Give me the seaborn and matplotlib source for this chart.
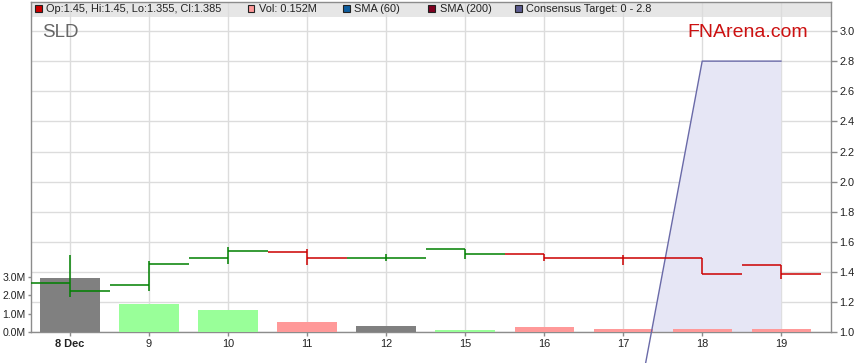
import matplotlib
matplotlib.use("Agg")
import matplotlib.pyplot as plt
import matplotlib.ticker as mticker
from matplotlib.patches import Rectangle
import numpy as np
import pandas as pd
import seaborn as sns

# ---------------- data ----------------
dates = ["8 Dec", "9", "10", "11", "12", "15", "16", "17", "18", "19"]
opens = [1.33, 1.315, 1.49, 1.53, 1.495, 1.55, 1.52, 1.495, 1.49, 1.45]
highs = [1.51, 1.475, 1.565, 1.55, 1.52, 1.55, 1.52, 1.51, 1.49, 1.45]
lows = [1.235, 1.275, 1.455, 1.45, 1.47, 1.485, 1.47, 1.45, 1.39, 1.355]
closes = [1.275, 1.455, 1.54, 1.495, 1.495, 1.52, 1.495, 1.49, 1.39, 1.385]
volume_m = [2.93, 1.53, 1.2, 0.555, 0.34, 0.12, 0.29, 0.18, 0.18, 0.152]
price_dir = ["up", "up", "up", "down", "up", "up", "down", "down", "down", "down"]
vol_dir = ["flat", "up", "up", "down", "flat", "up", "down", "down", "down", "down"]
cons_dates = ["17", "18", "19"]
cons_values = [0.0, 2.8, 2.8]
price_ticks = [1.0, 1.2, 1.4, 1.6, 1.8, 2.0, 2.2, 2.4, 2.6, 2.8, 3.0]
vol_ticks = [0.0, 1.0, 2.0, 3.0]

# ---------------- style ----------------
sns.set_theme(style="white")
plt.rcParams["font.family"] = ["Liberation Sans", "DejaVu Sans"]
FS = 7.9
GRID = "#dcdcdc"
SPINE = "#8c8c8c"
TXT = "#222222"
price_col = {"up": "#008000", "down": "#cc0000"}
vol_col = {"up": "#99ff99", "down": "#ff9999", "flat": "#808080"}

W, H = 859, 363
fig = plt.figure(figsize=(W / 100, H / 100), dpi=100)
fig.patch.set_facecolor("white")

x_left, x_right = 30.5, 831.0
y_top, y_bot = 2.3, 332.3
ax_p = fig.add_axes([x_left / W, 1 - y_bot / H, (x_right - x_left) / W, (y_bot - y_top) / H])

px_per_unit = 150.65
px_per_m = 18.55
p_top = 1.0 + (y_bot - y_top) / px_per_unit
v_top = (y_bot - y_top) / px_per_m

idx = np.arange(len(dates))
xlim = (-0.5, 9.63)

# base axes: band, grid, consensus fill
ax_p.set_xlim(*xlim)
ax_p.set_ylim(1.0, p_top)
ax_p.set_axisbelow(True)
band_frac = (y_bot - 16.5) / (y_bot - y_top)
ax_p.add_patch(Rectangle((0, band_frac), 1, 1 - band_frac, transform=ax_p.transAxes,
                         facecolor="#e6e6e6", edgecolor="none", zorder=0.1))
ax_p.set_yticks(price_ticks)
ax_p.yaxis.set_major_formatter(mticker.FormatStrFormatter("%.1f"))
ax_p.grid(True, color=GRID, linewidth=1.0)
cons_x = [dates.index(d) for d in cons_dates]
ax_p.fill_between(cons_x, cons_values, 0, color="#e6e6f5", linewidth=0, zorder=1)
for s in ax_p.spines.values():
    s.set_color(SPINE)
    s.set_linewidth(1.0)

# volume axes
ax_v = ax_p.twinx()
vdf = pd.DataFrame({"date": dates, "vol": volume_m, "dir": vol_dir})
sns.barplot(data=vdf, x="date", y="vol", hue="date",
            palette=[vol_col[d] for d in vol_dir], width=0.75,
            legend=False, ax=ax_v, saturation=1, linewidth=0, zorder=2)
ax_v.set_ylim(0, v_top)
ax_v.set_yticks(vol_ticks)
ax_v.yaxis.set_major_formatter(mticker.FuncFormatter(lambda v, p: f"{v:.1f}M"))
ax_v.set_ylabel("")
ax_v.set_xlabel("")
for s in ax_v.spines.values():
    s.set_visible(False)

# OHLC + consensus line axes
ax_o = ax_p.twinx()
ax_o.set_ylim(1.0, p_top)
ax_o.set_yticks([])
for s in ax_o.spines.values():
    s.set_visible(False)
sns.lineplot(x=cons_x, y=cons_values, ax=ax_o, color="#6a6aa8", linewidth=1.0,
             clip_on=False, zorder=3, legend=False)
for i in idx:
    c = price_col[price_dir[i]]
    ax_o.vlines(i, lows[i], highs[i], color=c, linewidth=1.1, zorder=4)
    ax_o.hlines(opens[i], i - 0.5, i, color=c, linewidth=1.1, zorder=4)
    ax_o.hlines(closes[i], i, i + 0.5, color=c, linewidth=1.1, zorder=4)
ax_o.set_ylim(1.0, p_top)

# tick placement (after twins, which reset sides)
ax_p.yaxis.tick_right()
ax_p.tick_params(axis="y", which="major", direction="out", length=4, width=1, color=SPINE,
                 labelsize=FS, labelcolor=TXT, pad=2, right=True, left=False,
                 labelright=True, labelleft=False)
ax_v.yaxis.tick_left()
ax_v.yaxis.set_label_position("left")
ax_v.tick_params(axis="y", direction="out", length=2.5, width=1, color=SPINE,
                 labelsize=7.6, labelcolor=TXT, pad=0.8, left=True, right=False,
                 labelleft=True, labelright=False)

ax_p.set_xlim(*xlim)
ax_p.set_xticks(idx)
ax_p.set_xticklabels(dates)
ax_p.tick_params(axis="x", which="major", direction="out", length=3, width=1, color=SPINE,
                 labelsize=FS, labelcolor=TXT, pad=2, bottom=True)
for j, lab in enumerate(ax_p.get_xticklabels()):
    if j == 0:
        lab.set_fontweight("bold")
ax_p.set_xlabel("")
ax_p.set_ylabel("")

# header legend
def fy(y):
    return 1 - y / H

legend_items = [
    (35.0, "#cc0000",
     f"Op:{opens[-1]:g}, Hi:{highs[-1]:g}, Lo:{lows[-1]:g}, Cl:{closes[-1]:g}"),
    (247.5, "#ff9999", f"Vol: {volume_m[-1]:g}M"),
    (342.5, "#0f5fa0", "SMA (60)"),
    (428.0, "#800020", "SMA (200)"),
    (514.5, "#5c5c90", f"Consensus Target: {cons_values[0]:g} - {max(cons_values):g}"),
]
for x0, col, txt in legend_items:
    fig.patches.append(Rectangle((x0 / W, fy(12.0)), 7 / W, 7 / H, transform=fig.transFigure,
                                 facecolor=col, edgecolor="#222222", linewidth=0.8))
    fig.text((x0 + 11.5) / W, fy(9.0), txt, fontsize=FS, color=TXT, va="center", ha="left")

fig.text(42.0 / W, fy(32.5), "SLD", fontsize=13.5, color="#666666", va="center", ha="left")
fig.text(808.0 / W, fy(32.5), "FNArena.com", fontsize=14.0, color="#cc1111", va="center", ha="right")

fig.savefig("out.png", dpi=100, facecolor="white")
